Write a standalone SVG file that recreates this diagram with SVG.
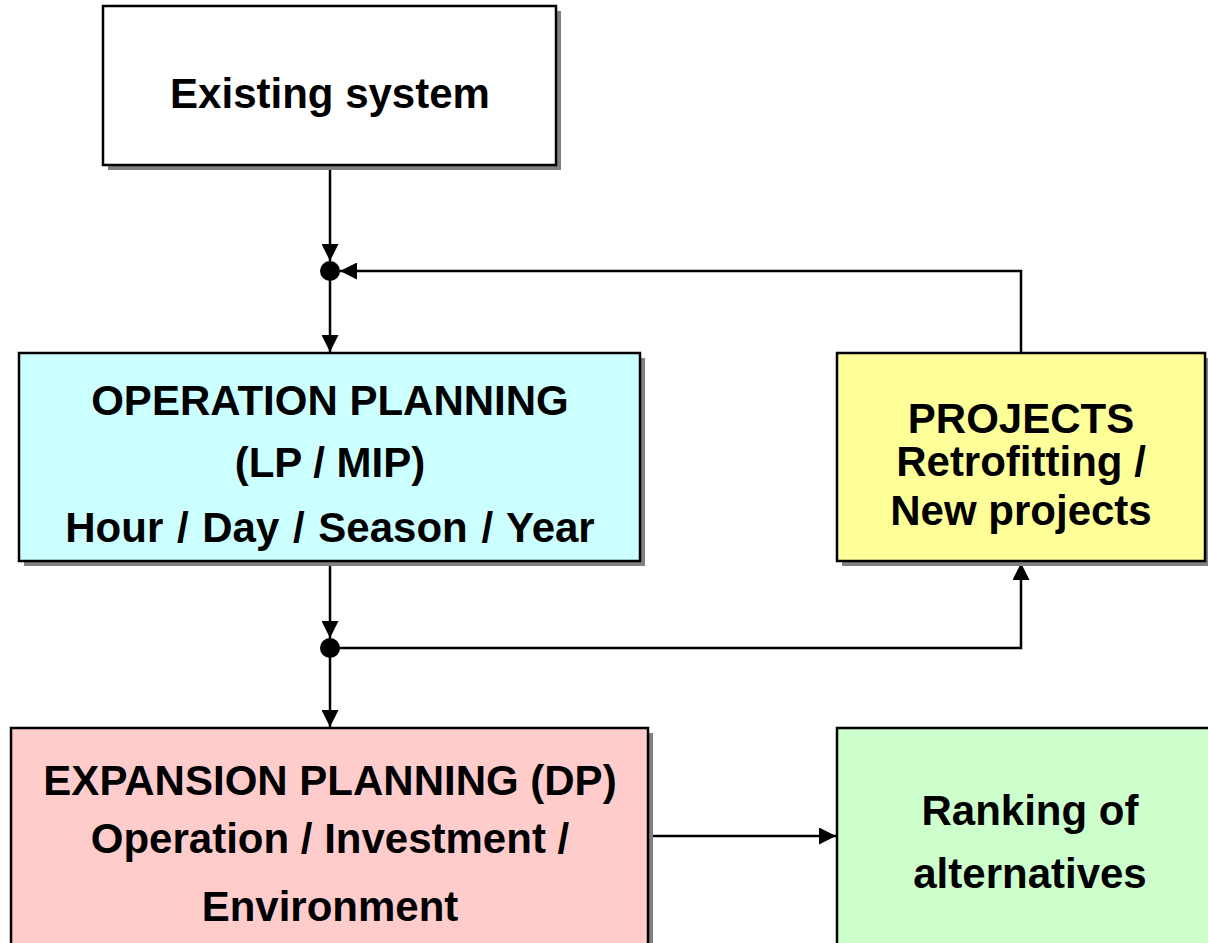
<svg xmlns="http://www.w3.org/2000/svg" width="1208" height="943" viewBox="0 0 1208 943">
<defs>
<style>
.box{stroke:#000;stroke-width:2.5}
.sh{fill:#808080}
.t{font-family:"Liberation Sans",Arial,sans-serif;font-weight:bold;font-size:42px;text-anchor:middle;fill:#000}
.c{stroke:#000;stroke-width:2.5;fill:none}
</style>
<marker id="ah" viewBox="0 0 10 10" refX="10" refY="5" markerWidth="17" markerHeight="17" markerUnits="userSpaceOnUse" orient="auto">
<path d="M0,0 L10,5 L0,10 z" fill="#000"/>
</marker>
</defs>
<rect width="1208" height="943" fill="#fff"/>
<g id="connectors">
<line class="c" x1="330" y1="165" x2="330" y2="261" marker-end="url(#ah)"/>
<line class="c" x1="330" y1="271" x2="330" y2="352" marker-end="url(#ah)"/>
<polyline class="c" points="1021,353 1021,271 340,271" marker-end="url(#ah)"/>
<line class="c" x1="330" y1="561" x2="330" y2="638" marker-end="url(#ah)"/>
<polyline class="c" points="330,648 1021,648 1021,563" marker-end="url(#ah)"/>
<line class="c" x1="330" y1="648" x2="330" y2="727" marker-end="url(#ah)"/>
<line class="c" x1="650" y1="836" x2="836" y2="836" marker-end="url(#ah)"/>
<circle cx="330" cy="271" r="10" fill="#000"/>
<circle cx="330" cy="648" r="10" fill="#000"/>
</g>
<g id="existing">
<rect class="sh" x="108" y="11" width="453" height="159"/>
<rect class="box" x="103" y="6" width="453" height="159" fill="#fff"/>
<text class="t" x="330" y="108">Existing system</text>
</g>
<g id="operation">
<rect class="sh" x="24" y="358" width="621" height="208"/>
<rect class="box" x="19" y="353" width="621" height="208" fill="#CCFFFF"/>
<text class="t" x="330" y="415">OPERATION PLANNING</text>
<text class="t" x="330" y="477">(LP / MIP)</text>
<text class="t" x="330" y="542" word-spacing="2">Hour / Day / Season / Year</text>
</g>
<g id="projects">
<rect class="sh" x="842" y="358" width="368" height="208"/>
<rect class="box" x="837" y="353" width="368" height="208" fill="#FFFF99"/>
<text class="t" x="1021" y="433">PROJECTS</text>
<text class="t" x="1021" y="476">Retrofitting /</text>
<text class="t" x="1021" y="525">New projects</text>
</g>
<g id="expansion">
<rect class="sh" x="16" y="733" width="637" height="230"/>
<rect class="box" x="11" y="728" width="637" height="230" fill="#FFCCCC"/>
<text class="t" x="330" y="795">EXPANSION PLANNING (DP)</text>
<text class="t" x="330" y="853">Operation / Investment /</text>
<text class="t" x="330" y="921">Environment</text>
</g>
<g id="ranking">
<rect class="box" x="837" y="728" width="388" height="230" fill="#CCFFCC"/>
<text class="t" x="1030" y="825">Ranking of</text>
<text class="t" x="1030" y="888">alternatives</text>
</g>
</svg>
